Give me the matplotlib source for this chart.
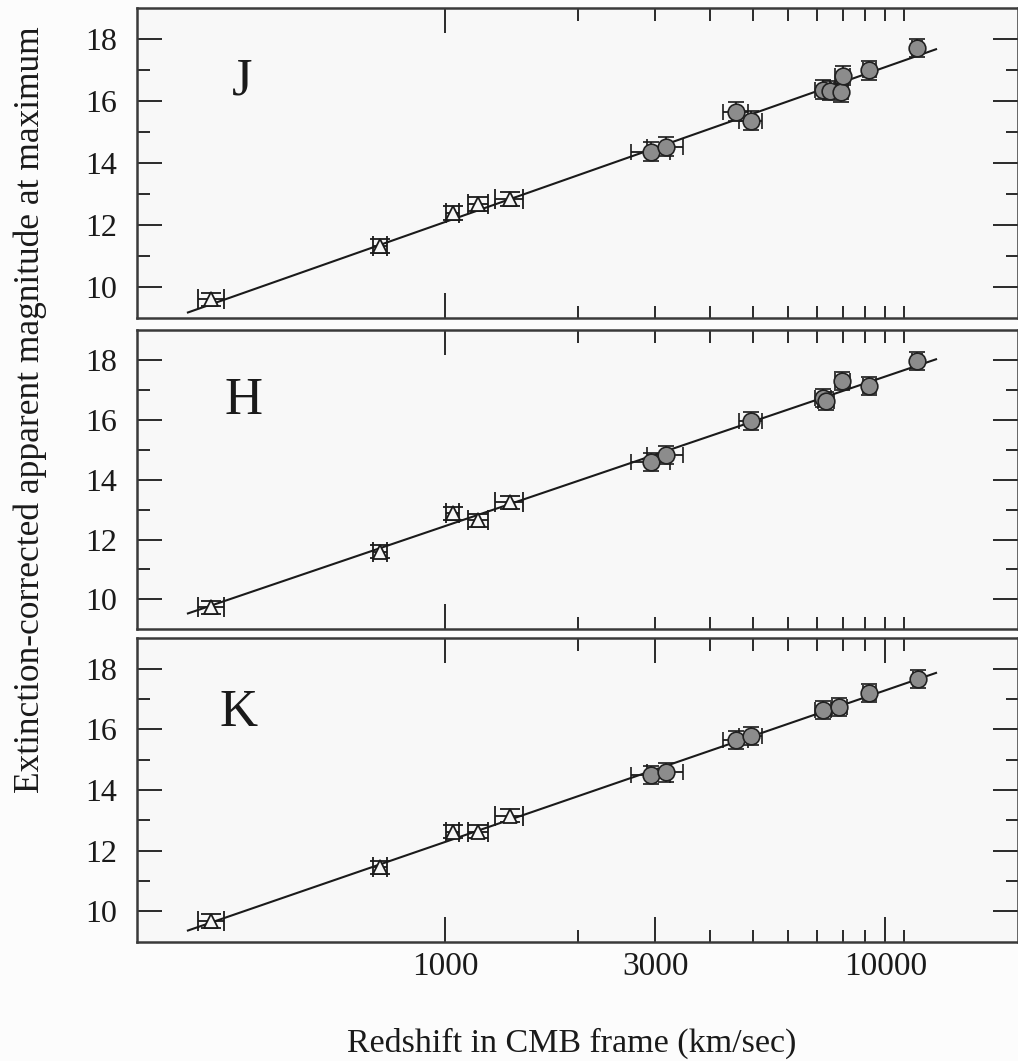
"""Hubble diagrams in J, H and K for nearby supernovae"""
import matplotlib
matplotlib.use("Agg")
import matplotlib.pyplot as plt
from matplotlib.ticker import FixedLocator, NullFormatter, FixedFormatter
import numpy as np

# velocities (km/s) of the nearby objects (triangles)
tri_v = [295, 712, 1043, 1190, 1403]
tri_verr = [20, 26, 35, 60, 105]

j_tri_mag = [9.60, 11.32, 12.38, 12.68, 12.83]
h_tri_mag = [9.73, 11.59, 12.87, 12.64, 13.25]
k_tri_mag = [9.68, 11.45, 12.63, 12.63, 13.15]

# distant objects (filled circles)
j_circ_v = [2942, 3170, 4585, 4960, 7210, 7500, 7930, 8000, 9200, 11800]
j_circ_verr = [300, 300, 300, 300, 300, 300, 300, 300, 300, 300]
j_circ_mag = [14.37, 14.53, 15.66, 15.37, 16.37, 16.33, 16.28, 16.82, 16.99, 17.71]

h_circ_v = [2942, 3170, 4960, 7210, 7340, 7990, 9200, 11800]
h_circ_verr = [300, 300, 300, 300, 300, 300, 300, 300]
h_circ_mag = [14.59, 14.81, 15.95, 16.73, 16.64, 17.31, 17.14, 17.98]

k_circ_v = [2942, 3170, 4585, 4960, 7233, 7864, 9200, 11830]
k_circ_verr = [300, 300, 300, 300, 300, 300, 300, 300]
k_circ_mag = [14.50, 14.58, 15.66, 15.79, 16.63, 16.74, 17.21, 17.67]

# fitted Hubble lines, m = 5 log(v) + zero point
line_v = [261, 13030]
zero_points = {'J': -2.905, 'H': -2.553, 'K': -2.715}

x_major_labelled = [1000, 3000, 10000]
x_major_plain = [1000]
x_minor_all = [2000, 3000, 4000, 5000, 6000, 7000, 8000, 9000, 10000, 11000]
x_minor_labelled = [2000, 4000, 5000, 6000, 7000, 8000, 9000, 11000]

SERIF = 'Liberation Serif'
INK = '#1a1a1a'


def style_axes(axes, labelled):
    """Log x axis, inward ticks on all sides, serif tick labels"""
    axes.set_facecolor('#f8f8f8')
    axes.set_xscale('log')
    axes.set_xlim(200, 20000)
    axes.set_ylim(9, 19)
    for spine in axes.spines.values():
        spine.set_color('#3a3a3a')
        spine.set_linewidth(1.8)
    if labelled:
        axes.xaxis.set_major_locator(FixedLocator(x_major_labelled))
        axes.xaxis.set_major_formatter(FixedFormatter([str(v) for v in x_major_labelled]))
        axes.xaxis.set_minor_locator(FixedLocator(x_minor_labelled))
    else:
        axes.xaxis.set_major_locator(FixedLocator(x_major_plain))
        axes.xaxis.set_major_formatter(NullFormatter())
        axes.xaxis.set_minor_locator(FixedLocator(x_minor_all))
    axes.xaxis.set_minor_formatter(NullFormatter())
    axes.yaxis.set_major_locator(FixedLocator([10, 12, 14, 16, 18]))
    axes.yaxis.set_minor_locator(FixedLocator([11, 13, 15, 17]))
    axes.tick_params(which='both', direction='in', top=True, right=True,
                     color=INK, width=1.3)
    axes.tick_params(which='major', length=18)
    axes.tick_params(which='minor', length=9)
    axes.tick_params(axis='y', which='major', pad=14, labelsize=23)
    axes.tick_params(axis='x', which='major', pad=7, labelsize=24)
    for label in axes.get_xticklabels() + axes.get_yticklabels():
        label.set_fontfamily(SERIF)
        label.set_color(INK)


def draw_band(axes, band, tri_mag, circ_v, circ_verr, circ_mag, letter_pos):
    """Plots fitted line, triangles and circles with their error bars"""
    vs = np.array(line_v, dtype=float)
    axes.plot(vs, 5 * np.log10(vs) + zero_points[band], color=INK, lw=1.5, zorder=2)
    axes.errorbar(tri_v, tri_mag, xerr=tri_verr, yerr=0.22, fmt='^', ms=9.5,
                  mfc='#f6f6f6', mec=INK, mew=1.3, ecolor=INK, elinewidth=1.3,
                  capsize=7, capthick=1.4, zorder=3)
    axes.errorbar(circ_v, circ_mag, xerr=circ_verr, yerr=0.3, fmt='o', ms=12,
                  mfc='#8c8c8c', mec='#222222', mew=1.2, ecolor=INK, elinewidth=1.3,
                  capsize=5.5, capthick=1.4, zorder=4)
    axes.text(letter_pos[0], letter_pos[1], band, transform=axes.transAxes,
              fontsize=38, fontfamily=SERIF, color=INK, ha='center', va='center')


def main():
    fig = plt.figure(figsize=(10.18, 10.61), dpi=100, facecolor='#fcfcfc')
    left, width = 137 / 1018, 881 / 1018
    ax_j = fig.add_axes([left, 1 - 318 / 1061, width, 310 / 1061])
    ax_h = fig.add_axes([left, 1 - 629.3 / 1061, width, 299.3 / 1061])
    ax_k = fig.add_axes([left, 1 - 941.7 / 1061, width, 303.4 / 1061])

    draw_band(ax_j, 'J', j_tri_mag, j_circ_v, j_circ_verr, j_circ_mag, (0.119, 0.762))
    draw_band(ax_h, 'H', h_tri_mag, h_circ_v, h_circ_verr, h_circ_mag, (0.121, 0.763))
    draw_band(ax_k, 'K', k_tri_mag, k_circ_v, k_circ_verr, k_circ_mag, (0.115, 0.753))

    style_axes(ax_j, False)
    style_axes(ax_h, False)
    style_axes(ax_k, True)

    fig.text(572 / 1018, 1 - 1043 / 1061, 'Redshift in CMB frame (km/sec)',
             fontsize=24.5, fontfamily=SERIF, color=INK, ha='center', va='center')
    fig.text(30 / 1018, 1 - 410 / 1061,
             'Extinction-corrected apparent magnitude at maximum',
             fontsize=25.5, fontfamily=SERIF, color=INK, ha='center', va='center',
             rotation=90)

    fig.savefig('out.png', dpi=100, facecolor=fig.get_facecolor())


if __name__ == "__main__":
    main()
